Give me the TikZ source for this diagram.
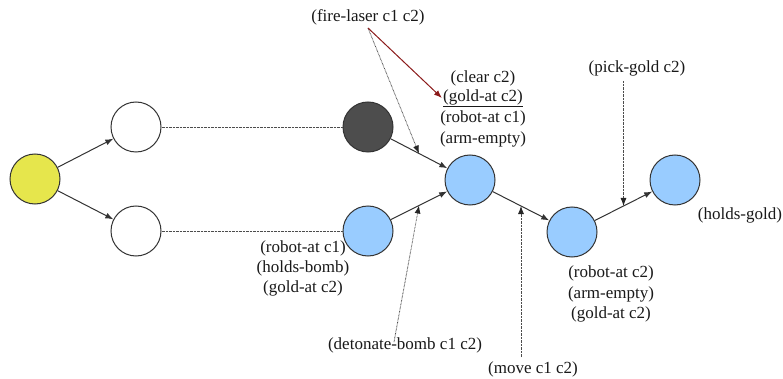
\documentclass[tikz,border=0pt]{standalone}
\usepackage{fontspec}
\setmainfont{Liberation Serif}
\usetikzlibrary{arrows.meta}
\definecolor{startfill}{RGB}{230,230,76}
\definecolor{goalfill}{RGB}{153,204,255}
\definecolor{deadfill}{RGB}{77,77,77}
\definecolor{edgegray}{RGB}{51,51,51}
\definecolor{hintred}{RGB}{139,26,26}
\begin{document}
\begin{tikzpicture}[x=1pt,y=-1pt,
  state/.style={circle,draw=edgegray,line width=1pt,minimum size=50pt,inner sep=0pt},
  lbl/.style={font=\fontsize{17}{20}\selectfont,text=black!90,inner sep=0pt},
  flow/.style={draw=edgegray,line width=1pt,-{Latex[length=8pt,width=6pt]}},
  link/.style={draw=black!70,line width=0.8pt,dash pattern=on 0.7pt off 0.7pt},
  cue/.style={link,-{Latex[length=8pt,width=6pt,color=black!85]}},
]
\useasboundingbox (0,0) rectangle (783,379);

% states
\node[state,fill=startfill] (s0) at (35,179) {};
\node[state,fill=white] (a1) at (136,127) {};
\node[state,fill=white] (b1) at (136,231) {};
\node[state,fill=deadfill] (a2) at (368,127) {};
\node[state,fill=goalfill] (b2) at (368,231) {};
\node[state,fill=goalfill] (c) at (470,180) {};
\node[state,fill=goalfill] (d) at (572,232) {};
\node[state,fill=goalfill] (e) at (675,180) {};

% transitions
\draw[flow] (s0) -- (a1);
\draw[flow] (s0) -- (b1);
\draw[link] (a1) -- (a2);
\draw[link] (b1) -- (b2);
\draw[flow] (a2) -- coordinate[pos=0.5] (mlaser) (c);
\draw[flow] (b2) -- coordinate[pos=0.5] (mbomb) (c);
\draw[flow] (c) -- coordinate[pos=0.5] (mmove) (d);
\draw[flow] (d) -- coordinate[pos=0.5] (mpick) (e);

% action labels
\node[lbl] (laser) at (368,17) {(fire-laser c1 c2)};
\node[lbl] (bomb) at (405,345) {(detonate-bomb c1 c2)};
\node[lbl] (move) at (533,369) {(move c1 c2)};
\node[lbl] (pick) at (637,68) {(pick-gold c2)};

% state facts
\node[lbl] (c1) at (483,78) {(clear c2)};
\node[lbl] (c2) at (483,98) {\underline{(gold-at c2)}};
\node[lbl] (c3) at (483,118) {(robot-at c1)};
\node[lbl] (c4) at (483,139) {(arm-empty)};

\node[lbl] (b21) at (303,248) {(robot-at c1)};
\node[lbl] (b22) at (303,268) {(holds-bomb)};
\node[lbl] (b23) at (303,288) {(gold-at c2)};

\node[lbl] (d1) at (611,273) {(robot-at c2)};
\node[lbl] (d2) at (611,294) {(arm-empty)};
\node[lbl] (d3) at (611,314) {(gold-at c2)};

\node[lbl] (e1) at (740,215) {(holds-gold)};

% pointers from actions to transitions
\coordinate (laserfoot) at ([yshift=-3pt]laser.south);
\draw[cue] (laserfoot) -- (mlaser);
\draw[draw=hintred,line width=1pt,-{Latex[length=8pt,width=6pt]}] (laserfoot) -- ([xshift=-1pt]c2.west);
\draw[cue] ([xshift=-11pt,yshift=-5pt]bomb.north) -- (mbomb);
\draw[cue] (mmove |- move.north) ++(0,-4) -- (mmove);
\draw[cue] (mpick |- pick.south) ++(0,5) -- (mpick);
\end{tikzpicture}
\end{document}
